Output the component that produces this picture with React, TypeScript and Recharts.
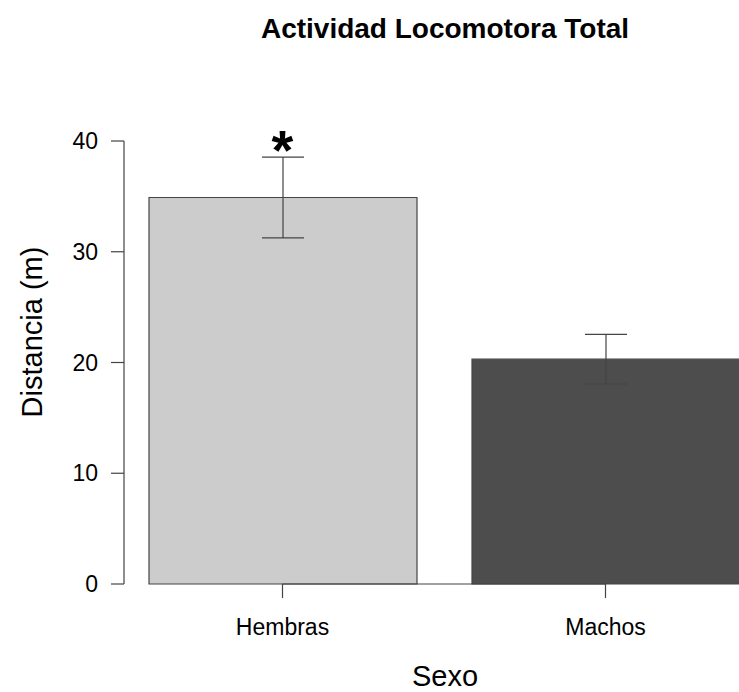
import { BarChart, Bar, Cell, XAxis, YAxis, ErrorBar, ReferenceLine, ReferenceDot } from "recharts";

// group means and standard errors for total locomotor activity
const groups = ["Hembras", "Machos"];
const means = [34.9, 20.3];
const errors = [3.65, 2.24];
const marks = ["*", ""];
const fills = ["#cccccc", "#4d4d4d"];
const yTicks = [0, 10, 20, 30, 40];

const data = groups.map((sexo, i) => ({ sexo, mean: means[i], se: errors[i] }));

const FONT = '"Liberation Sans", Arial, Helvetica, sans-serif';
const INK = "#444";

function Star(props: { cx?: number; cy?: number; mark: string }) {
  const { cx = 0, cy = 0, mark } = props;
  return (
    <text x={cx} y={cy} textAnchor="middle" fontFamily={FONT} fontWeight="bold" fontSize={56} fill="#000">
      {mark}
    </text>
  );
}

export default function App() {
  return (
    <div
      style={{
        position: "absolute",
        left: 0,
        top: 0,
        width: 739,
        height: 692,
        overflow: "hidden",
        background: "#fff",
        fontFamily: FONT,
      }}
    >
      <BarChart width={780} height={692} data={data} margin={{ top: 141, right: 13, bottom: 0, left: 0 }}>
        <XAxis
          dataKey="sexo"
          height={108}
          padding={{ left: -3, right: 0 }}
          axisLine={false}
          tickLine={{ stroke: INK, strokeWidth: 1.2 }}
          tickSize={14}
          tickMargin={21}
          tick={{ fill: "#000", fontSize: 23, fontFamily: FONT }}
        />
        <YAxis
          type="number"
          domain={[0, 40]}
          ticks={yTicks}
          width={124}
          axisLine={{ stroke: INK, strokeWidth: 1.2 }}
          tickLine={{ stroke: INK, strokeWidth: 1.2 }}
          tickSize={13}
          tickMargin={13}
          tick={{ fill: "#000", fontSize: 23, fontFamily: FONT }}
        />
        <Bar dataKey="mean" barSize={268} stroke={INK} strokeWidth={1.2} isAnimationActive={false}>
          {data.map((d, i) => (
            <Cell key={d.sexo} fill={fills[i]} />
          ))}
          <ErrorBar dataKey="se" width={21} stroke={INK} strokeWidth={1.2} isAnimationActive={false} />
        </Bar>
        <ReferenceLine
          segment={[
            { x: groups[0], y: 0 },
            { x: groups[groups.length - 1], y: 0 },
          ]}
          stroke={INK}
          strokeWidth={1.2}
        />
        {data.map((d, i) =>
          marks[i] ? (
            <ReferenceDot
              key={d.sexo}
              x={d.sexo}
              y={d.mean + d.se}
              r={0}
              shape={(p: any) => <Star cx={p.cx} cy={p.cy + 12} mark={marks[i]} />}
            />
          ) : null
        )}
      </BarChart>
      <svg width={739} height={692} style={{ position: "absolute", left: 0, top: 0, pointerEvents: "none" }}>
        <text x={445} y={38} textAnchor="middle" fontFamily={FONT} fontWeight="bold" fontSize={28} fill="#000">
          Actividad Locomotora Total
        </text>
        <text x={445} y={686} textAnchor="middle" fontFamily={FONT} fontSize={29} fill="#000">
          Sexo
        </text>
        <text
          x={42}
          y={332}
          transform="rotate(-90 42 332)"
          textAnchor="middle"
          fontFamily={FONT}
          fontSize={29}
          fill="#000"
        >
          Distancia (m)
        </text>
      </svg>
    </div>
  );
}
